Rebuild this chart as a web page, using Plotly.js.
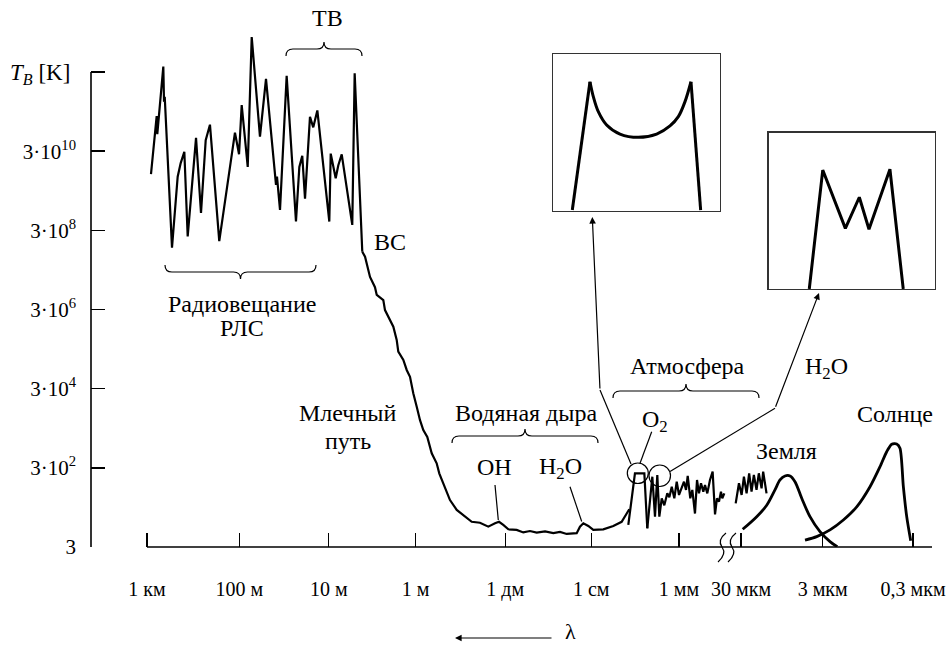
<!DOCTYPE html>
<html><head><meta charset="utf-8">
<script src="https://cdn.plot.ly/plotly-3.0.1.min.js"></script>
<style>html,body{margin:0;padding:0;background:#fff;} #chart{width:952px;height:647px;}</style>
</head><body><div id="chart"></div>
<script>
// ---- position along the (broken) wavelength scale; 1 decade = 1 unit up to 1 mm ----
const xTickPos    = [0, 1.04, 2.05, 3.03, 4.04, 5.01, 6.0, 6.70, 7.62, 8.64];
const xTickLabels = ['1 км', '100 м', '10 м', '1 м', '1 дм', '1 см', '1 мм', '30 мкм', '3 мкм', '0,3 мкм'];
const yTickVals   = [3, 3e2, 3e4, 3e6, 3e8, 3e10, 3e12];
const yTickLabels = ['3', '3·10<sup>2</sup>', '3·10<sup>4</sup>', '3·10<sup>6</sup>', '3·10<sup>8</sup>', '3·10<sup>10</sup>', ''];

// Radio broadcasting / radar / TV interference (T_B, K)
const radioPos = [0.045,0.109,0.116,0.184,0.192,0.200,0.282,0.346,0.380,0.421,0.459,0.553,0.609,0.662,0.710,0.815,0.992,1.038,1.068,1.136,1.181,1.274,1.342,1.444,1.455,1.466,1.500,1.575,1.680,1.718,1.751,1.782,1.838,1.875,1.921,2.056,2.072,2.128,2.157,2.196,2.315,2.342,2.428];
const radioTB  = [7.9e9,2.3e11,8.1e10,4.1e12,5.3e11,7.1e11,1.1e8,6.8e9,1.5e10,2.9e10,2.1e8,6.5e10,8.2e8,5.7e10,1.4e11,1.6e8,8.8e10,2.5e10,4.4e11,1.2e10,2.3e13,7.0e10,2.0e12,6.8e9,4.2e9,6.8e9,9.8e8,2.4e12,5.0e8,1.2e10,2.3e10,1.9e9,2.2e11,1.2e11,3.2e11,5.0e8,2.6e10,6.2e9,1.3e10,2.5e10,4.1e8,2.8e12,8.6e7];

// Milky Way + water hole (OH, H2O bumps)
const galPos = [2.428,2.459,2.515,2.571,2.591,2.665,2.684,2.741,2.778,2.816,2.834,2.891,2.929,2.966,3.003,3.042,3.079,3.116,3.161,3.211,3.267,3.296,3.361,3.417,3.493,3.586,3.662,3.755,3.849,3.925,3.970,4.018,4.075,4.169,4.244,4.319,4.395,4.489,4.582,4.658,4.733,4.846,4.883,4.921,4.977,5.033,5.146,5.259,5.353,5.410,5.439];
const galTB  = [8.6e7,6.5e7,2.0e7,1.1e7,7.0e6,5.2e6,2.9e6,1.6e6,1.1e6,5.1e5,2.6e5,1.6e5,8.9e4,6.0e4,2.3e4,1.05e4,4.8e3,2.7e3,1.8e3,700,390,218,100,46,26,18,13,12.3,9.8,11.9,13,10.8,8.4,8.1,7.0,7.6,6.9,7.4,6.7,7.2,6.4,6.7,9.8,11.9,10.2,8.1,8.4,10.2,13,21,27];

// O2 line
const o2Pos = [5.428,5.503,5.609,5.642];
const o2TB  = [10.8,218,218,8.9];

// Atmosphere
const atmPos = [5.642,5.699,5.729,5.755,5.778,5.805,5.834,5.868,5.891,5.918,5.947,5.974,6.000,6.030,6.056,6.079,6.098,6.127,6.150,6.180,6.203,6.225,6.248,6.274,6.293,6.319,6.349,6.379,6.406,6.428,6.451,6.473,6.488,6.511];
const atmTB  = [8.9,179,17.5,198,17.5,51,34,68,54,100,51,134,62,91,134,83,187,51,83,21,148,68,122,75,110,68,148,240,20,51,42,75,51,68];
const atm2Pos = [6.639,6.676,6.706,6.732,6.762,6.791,6.818,6.844,6.874,6.900,6.931,6.949,6.987];
const atm2TB  = [38,122,62,179,68,218,75,198,83,218,91,240,68];

// Earth and Sun
const earthPos = [6.718,6.876,6.989,7.082,7.139,7.195,7.252,7.308,7.384,7.477,7.590,7.703,7.785];
const earthTB  = [8.4,17.5,34,83,148,187,187,134,51,17.5,7.3,4.1,3.05];
const sunPos = [7.421,7.553,7.703,7.853,8.004,8.154,8.267,8.342,8.399,8.455,8.492,8.530,8.568,8.613];
const sunTB  = [4.5,5.5,8.1,14.4,31,100,321,767,1180,1200,933,100,17.5,4.3];

// Insets (relative units)
const in1LegLX = [0.114,0.220], in1LegLY = [0.004,0.823];
const in1CupX = [0.220,0.240,0.270,0.320,0.400,0.510,0.620,0.700,0.750,0.790,0.826];
const in1CupY = [0.823,0.728,0.632,0.547,0.489,0.468,0.489,0.541,0.600,0.696,0.823];
const in1LegRX = [0.826,0.884], in1LegRY = [0.823,0.004];
const in2X = [0.244,0.325,0.461,0.545,0.603,0.729,0.809];
const in2Y = [0.0,0.761,0.388,0.587,0.382,0.766,0.0];

// ---- layout helpers ----
const W=952, H=647, ML=91, MR=7, MT=10, MB=100;
const PW=W-ML-MR, PH=H-MT-MB;
const FX = v => (v-ML)/PW;
const FY = v => (H-MB-v)/PH;
const P = (x,y) => FX(x).toFixed(5)+','+FY(y).toFixed(5);
const FONT = 'Liberation Serif, Times New Roman, serif';
const BLACK = '#000';

const ln = {color:BLACK, width:2.2};
function tr(x,y,extra){ return Object.assign({x:x,y:y,mode:'lines',line:ln,hoverinfo:'skip',showlegend:false},extra||{}); }

const data = [
  tr(radioPos, radioTB),
  tr(galPos, galTB),
  tr(o2Pos, o2TB),
  tr(atmPos, atmTB),
  tr(atm2Pos, atm2TB),
  tr(earthPos, earthTB, {line:{color:BLACK,width:2.8,shape:'spline',smoothing:0.9}}),
  tr(sunPos, sunTB, {line:{color:BLACK,width:2.8,shape:'spline',smoothing:0.7}}),
  tr(in1LegLX, in1LegLY, {xaxis:'x2',yaxis:'y2',line:{color:BLACK,width:3}}),
  tr(in1CupX, in1CupY, {xaxis:'x2',yaxis:'y2',line:{color:BLACK,width:3,shape:'spline'}}),
  tr(in1LegRX, in1LegRY, {xaxis:'x2',yaxis:'y2',line:{color:BLACK,width:3}}),
  tr(in2X, in2Y, {xaxis:'x3',yaxis:'y3',line:{color:BLACK,width:3}})
];

function brace(x1,x2,y,s){
  const h=7, r=7, xm=(x1+x2)/2;
  return 'M'+P(x1,y+s*h)+' Q'+P(x1,y)+' '+P(x1+r,y)+' L'+P(xm-r,y)+' Q'+P(xm,y)+' '+P(xm,y-s*h)+
         ' Q'+P(xm,y)+' '+P(xm+r,y)+' L'+P(x2-r,y)+' Q'+P(x2,y)+' '+P(x2,y+s*h);
}
function poly(pts){ return pts.map((p,i)=>(i?'L':'M')+P(p[0],p[1])).join(' '); }
function wave(x){ return 'M'+P(x+4,533)+' Q'+P(x-5,540)+' '+P(x,547)+' Q'+P(x+5,554)+' '+P(x-4,562); }

const thin = {color:BLACK, width:1.2};
const shapes = [
  {type:'line', xref:'x', yref:'paper', x0:0, x1:8.853, y0:0, y1:0, line:{color:BLACK,width:1.6}},
  {type:'line', xref:'paper', yref:'y', x0:0, x1:0, y0:3, y1:3e12, line:{color:BLACK,width:1.6}},
  {type:'path', xref:'paper', yref:'paper', path:brace(286,362,49,1), line:thin},
  {type:'path', xref:'paper', yref:'paper', path:brace(165,316,272,-1), line:thin},
  {type:'path', xref:'paper', yref:'paper', path:brace(452,598,436,1), line:thin},
  {type:'path', xref:'paper', yref:'paper', path:brace(613,759,391,1), line:thin},
  {type:'circle', xref:'paper', yref:'paper', x0:FX(627.3), x1:FX(648.3), y0:FY(483.5), y1:FY(463), line:thin},
  {type:'circle', xref:'paper', yref:'paper', x0:FX(649), x1:FX(670.5), y0:FY(486.5), y1:FY(465), line:thin},
  {type:'path', xref:'paper', yref:'paper', path:poly([[631,464],[600,390]]), line:thin},
  {type:'path', xref:'paper', yref:'paper', path:poly([[670,471.5],[775,408.3]]), line:thin},
  {type:'path', xref:'paper', yref:'paper', path:poly([[651.7,431.7],[640,463.3]]), line:thin},
  {type:'path', xref:'paper', yref:'paper', path:poly([[495,485],[498.3,520]]), line:thin},
  {type:'path', xref:'paper', yref:'paper', path:poly([[570,486.7],[581.7,521.5]]), line:thin},
  {type:'path', xref:'paper', yref:'paper', path:wave(722), line:thin},
  {type:'path', xref:'paper', yref:'paper', path:wave(732), line:thin}
];

function txt(t,x,y,size,ya){ return {text:t, x:FX(x), y:FY(y), xref:'paper', yref:'paper', showarrow:false, xanchor:'center', yanchor:ya||'middle', font:{family:FONT,size:size||24,color:BLACK}}; }
function arrow(hx,hy,tx,ty){ return {text:'', x:FX(hx), y:FY(hy), xref:'paper', yref:'paper', showarrow:true, ax:tx-hx, ay:ty-hy, axref:'pixel', ayref:'pixel', arrowhead:2, arrowsize:1.1, arrowwidth:1.2, arrowcolor:BLACK, standoff:0, startstandoff:0}; }

const annotations = [
  txt('<i>T</i><sub><i>B</i></sub> [K]', 40, 74, 23),
  txt('ТВ', 327, 18),
  txt('ВС', 390, 242),
  txt('Радиовещание', 242, 304),
  txt('РЛС', 242, 328),
  txt('Млечный', 347, 413),
  txt('путь', 348, 441),
  txt('Водяная дыра', 526, 413),
  txt('ОН', 494, 467),
  txt('H<sub>2</sub>O', 560, 468),
  txt('O<sub>2</sub>', 655, 421),
  txt('Атмосфера', 687, 366),
  txt('H<sub>2</sub>O', 826, 368),
  txt('Солнце', 895, 414),
  txt('Земля', 786, 451),
  txt('λ', 570, 646, 22, 'bottom'),
  arrow(592.3, 217, 600, 390),
  arrow(819, 293, 775, 408.3),
  arrow(455, 638, 553, 638)
];

const layout = {
  width:W, height:H, margin:{l:ML, r:MR, t:MT, b:MB},
  paper_bgcolor:'#fff', plot_bgcolor:'rgba(0,0,0,0)', showlegend:false,
  font:{family:FONT, color:BLACK},
  xaxis:{range:[(ML-147)/88.67, (ML-147)/88.67 + PW/88.67], showgrid:false, zeroline:false, showline:false,
         ticks:'inside', ticklen:14, tickwidth:1.4, tickcolor:BLACK, tickvals:xTickPos, ticktext:xTickLabels,
         tickfont:{family:FONT,size:20,color:BLACK}, ticklabelstandoff:28, fixedrange:true},
  yaxis:{type:'log', range:[Math.log10(3), Math.log10(3) + PH*12/475], showgrid:false, zeroline:false, showline:false,
         ticks:'inside', ticklen:14, tickwidth:1.4, tickcolor:BLACK, tickvals:yTickVals, ticktext:yTickLabels,
         tickfont:{family:FONT,size:21,color:BLACK}, ticklabelstandoff:14, fixedrange:true},
  xaxis2:{domain:[FX(553.3),FX(720)], anchor:'y2', range:[0,1], showline:true, mirror:true, linecolor:'#333', linewidth:1.4,
          showticklabels:false, ticks:'', showgrid:false, zeroline:false, fixedrange:true},
  yaxis2:{domain:[FY(210.7),FY(54)], anchor:'x2', range:[0,1], showline:true, mirror:true, linecolor:'#333', linewidth:1.4,
          showticklabels:false, ticks:'', showgrid:false, zeroline:false, fixedrange:true},
  xaxis3:{domain:[FX(768.7),FX(935)], anchor:'y3', range:[0,1], showline:true, mirror:true, linecolor:'#333', linewidth:1.4,
          showticklabels:false, ticks:'', showgrid:false, zeroline:false, fixedrange:true},
  yaxis3:{domain:[FY(289),FY(132.7)], anchor:'x3', range:[0,1], showline:true, mirror:true, linecolor:'#333', linewidth:1.4,
          showticklabels:false, ticks:'', showgrid:false, zeroline:false, fixedrange:true},
  shapes:shapes, annotations:annotations
};

Plotly.newPlot('chart', data, layout, {staticPlot:true, displayModeBar:false});
</script>
</body></html>
